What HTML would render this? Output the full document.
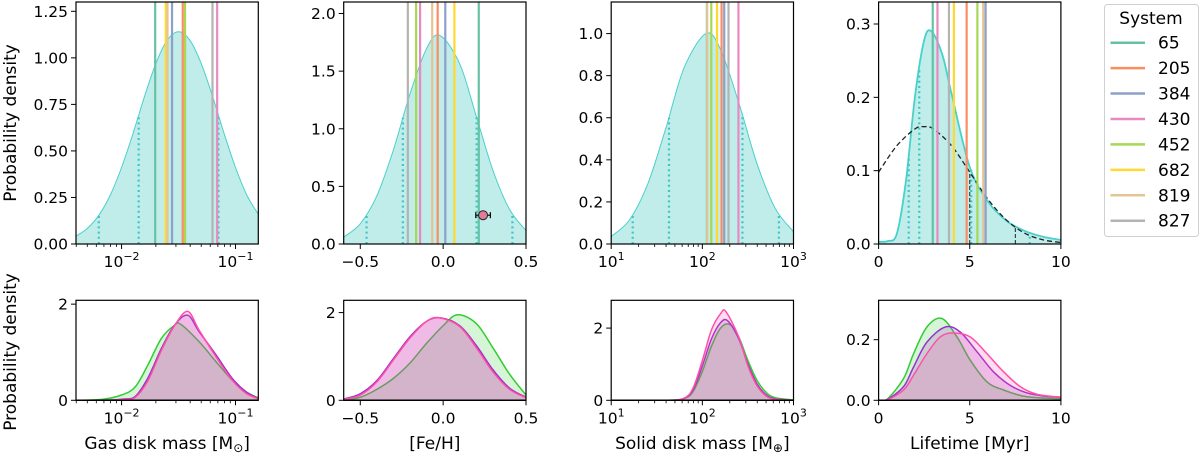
<!DOCTYPE html>
<html><head><meta charset="utf-8">
<style>
html,body{margin:0;padding:0;background:#fff;}
svg{display:block;font-family:"DejaVu Sans","Liberation Sans",sans-serif;}
</style></head>
<body>
<svg id="fig" width="1200" height="456" viewBox="0 0 1200 456" xmlns="http://www.w3.org/2000/svg"></svg>
<script>
// ---------- DATA ----------
const systemNames = ["65","205","384","430","452","682","819","827"];
const systemColors = ["#66c2a5","#fc8d62","#8da0cb","#e78ac3","#a6d854","#ffd92f","#e5c494","#b3b3b3"];
const sysGasLogMass = [-1.705,-1.463,-1.557,-1.161,-1.443,-1.612,-1.597,-1.202];
const sysFeH = [0.215,-0.033,0.013,-0.139,-0.163,0.068,-0.066,-0.213];
const sysSolidLogMass = [2.05,2.211,2.24,2.396,2.098,2.161,2.053,2.287];
const sysLifetime = [2.97,4.83,5.87,3.23,5.42,4.13,5.74,3.86];

const priorGasX = [-2.4,-2.3,-2.2,-2.1,-2.0,-1.9,-1.8,-1.7,-1.6,-1.5,-1.4,-1.3,-1.2,-1.1,-1.0,-0.9,-0.8];
const priorGasY = [0.042,0.084,0.154,0.262,0.411,0.593,0.790,0.968,1.094,1.14,1.094,0.968,0.790,0.593,0.411,0.262,0.16];
const priorGasDots = [-2.2,-1.85,-1.15];
const priorFeX = [-0.6,-0.5,-0.4,-0.3,-0.2,-0.1,-0.02,0.1,0.2,0.3,0.4,0.5];
const priorFeY = [0.060,0.175,0.418,0.817,1.303,1.696,1.81,1.564,1.108,0.641,0.302,0.117];
const priorFeDots = [-0.462,-0.243,0.202,0.418];
const feObsX = [0.241], feObsY = [0.25], feObsErr = [0.044];
const priorSolidX = [1.0,1.2,1.4,1.6,1.8,2.04,2.2,2.4,2.6,2.8,3.0];
const priorSolidY = [0.0359,0.114,0.284,0.551,0.838,1.0,0.924,0.671,0.381,0.169,0.0587];
const priorSolidDots = [1.236,1.634,2.44,2.84];
const priorLifeX = [0,0.5,1,1.5,2,2.5,2.9,3.5,4,5,6,7,8,9,10];
const priorLifeY = [0.003,0.004,0.014,0.086,0.202,0.278,0.29,0.258,0.205,0.105,0.058,0.032,0.018,0.01,0.0055];
const priorLifeDots = [1.65,2.23,5.08,8.29];
const diskFracX = [0,1,2,2.5,3,4,5,6,7,8,9,10];
const diskFracY = [0.098,0.134,0.157,0.16,0.157,0.134,0.098,0.061,0.033,0.0149,0.0058,0.002];
const diskFracMarks = [5.0,7.5];

const postColors = ["#33cc33","#9932cc","#ff4fa8"];
const postFills = ["rgba(50,205,50,0.2)","rgba(153,50,204,0.2)","rgba(255,80,170,0.2)"];
const postGasX = [[-2.4,-2.17,-2.0,-1.88,-1.77,-1.65,-1.536,-1.48,-1.32,-1.17,-1.03,-0.91,-0.8],
                  [-2.4,-2.1,-1.97,-1.88,-1.77,-1.65,-1.536,-1.42,-1.32,-1.17,-1.03,-0.91,-0.8],
                  [-2.4,-2.1,-1.97,-1.88,-1.77,-1.65,-1.536,-1.42,-1.32,-1.17,-1.03,-0.91,-0.8]];
const postGasY = [[0,0.02,0.11,0.28,0.73,1.29,1.56,1.58,1.22,0.8,0.42,0.18,0.05],
                  [0,0.005,0.03,0.08,0.46,1.08,1.56,1.77,1.43,0.94,0.46,0.18,0.04],
                  [0,0.004,0.02,0.06,0.4,1.04,1.55,1.85,1.46,0.9,0.42,0.15,0.03]];
const postFeX = [[-0.6,-0.5,-0.4,-0.3,-0.2,-0.1,0,0.087,0.2,0.3,0.4,0.5],
                 [-0.6,-0.5,-0.4,-0.3,-0.2,-0.1,-0.014,0.1,0.2,0.3,0.4,0.5],
                 [-0.6,-0.5,-0.4,-0.3,-0.2,-0.1,-0.02,0.1,0.2,0.3,0.4,0.5]];
const postFeY = [[0.0,0.07,0.25,0.5,0.85,1.3,1.7,1.95,1.75,1.2,0.6,0.12],
                 [0.03,0.15,0.45,0.95,1.45,1.8,1.88,1.7,1.25,0.7,0.28,0.07],
                 [0.02,0.12,0.42,0.92,1.42,1.8,1.88,1.68,1.2,0.65,0.25,0.06]];
const postSolidX = [[1.0,1.6,1.8,1.9,2.0,2.1,2.2,2.3,2.4,2.5,2.6,2.7,2.8,3.0],
                    [1.0,1.6,1.8,1.9,2.0,2.1,2.2,2.28,2.4,2.5,2.6,2.7,2.8,3.0],
                    [1.0,1.6,1.8,1.9,2.0,2.1,2.2,2.26,2.4,2.5,2.6,2.7,2.8,3.0]];
const postSolidY = [[0,0,0.05,0.25,0.8,1.5,2.0,2.1,1.75,1.1,0.55,0.22,0.07,0.01],
                    [0,0,0.05,0.3,0.95,1.7,2.15,2.2,1.7,1.0,0.45,0.15,0.04,0],
                    [0,0,0.06,0.35,1.1,1.95,2.4,2.45,1.75,0.95,0.4,0.12,0.03,0]];
const postLifeX = [[0,0.46,1.37,1.92,2.65,3.47,4.3,5.03,5.94,6.86,8.1,10],
                   [0,0.46,1.37,1.92,2.65,3.66,4.48,5.4,6.3,7.2,8.1,9.05,10],
                   [0,0.46,1.37,1.92,2.65,3.38,4.1,5.03,5.94,6.86,7.77,8.68,10]];
const postLifeY = [[0,0.003,0.072,0.154,0.242,0.27,0.209,0.132,0.061,0.034,0.012,0.005],
                   [0,0.002,0.045,0.11,0.192,0.242,0.225,0.16,0.094,0.05,0.025,0.014,0.01],
                   [0,0.001,0.034,0.083,0.154,0.209,0.222,0.209,0.154,0.094,0.045,0.02,0.01]];

const gasTicks = [-2,-1], gasTickLabels = ["\u22122","\u22121"];
const feTicks = [-0.5,0,0.5], feTickLabels = ["\u22120.5","0.0","0.5"];
const solidTicks = [1,2,3], solidTickLabels = ["1","2","3"];
const lifeTicks = [0,5,10], lifeTickLabels = ["0","5","10"];
const topYTicks = [[0,0.25,0.5,0.75,1.0,1.25],[0,0.5,1.0,1.5,2.0],[0,0.2,0.4,0.6,0.8,1.0],[0,0.1,0.2,0.3]];
const topYLabels = [["0.00","0.25","0.50","0.75","1.00","1.25"],["0.0","0.5","1.0","1.5","2.0"],["0.0","0.2","0.4","0.6","0.8","1.0"],["0.0","0.1","0.2","0.3"]];
const botYTicks = [[0,2],[0,2],[0,2],[0,0.2]];
const botYLabels = [["0","2"],["0","2"],["0","2"],["0.0","0.2"]];

// ---------- DRAWING ----------
const NS = "http://www.w3.org/2000/svg";
const svg = document.getElementById("fig");
function el(tag, attrs, parent){
  const e = document.createElementNS(NS, tag);
  for (const k in attrs) e.setAttribute(k, attrs[k]);
  (parent||svg).appendChild(e);
  return e;
}
const LEFTS = [76, 343.7, 611.2, 878.6], W = 182.3;
const XR = [[-2.4,-0.8],[-0.6,0.5],[1,3],[0,10]];
const LOGX = [true,false,true,false];
const TOP = {y0:2, y1:244, ymax:[1.30,2.1,1.15,0.33]};
const BOT = {y0:300.3, y1:400.3, ymax:[2.08,2.28,2.77,0.33]};
const TF = 15.5;

function mkX(i){ const [a,b]=XR[i]; return v => LEFTS[i] + (v-a)/(b-a)*W; }
function mkY(row,i){ return v => row.y1 - v/row.ymax[i]*(row.y1-row.y0); }

function smoothPath(pts){
  let d = "M"+pts[0][0].toFixed(2)+","+pts[0][1].toFixed(2);
  for (let i=0;i<pts.length-1;i++){
    const p0=pts[Math.max(i-1,0)], p1=pts[i], p2=pts[i+1], p3=pts[Math.min(i+2,pts.length-1)];
    const c1=[p1[0]+(p2[0]-p0[0])/6, p1[1]+(p2[1]-p0[1])/6];
    const c2=[p2[0]-(p3[0]-p1[0])/6, p2[1]-(p3[1]-p1[1])/6];
    d += "C"+c1[0].toFixed(2)+","+c1[1].toFixed(2)+" "+c2[0].toFixed(2)+","+c2[1].toFixed(2)+" "+p2[0].toFixed(2)+","+p2[1].toFixed(2);
  }
  return d;
}
function interp(xs, ys, v){
  for (let i=0;i<xs.length-1;i++){
    if (v>=xs[i] && v<=xs[i+1]) return ys[i]+(ys[i+1]-ys[i])*(v-xs[i])/(xs[i+1]-xs[i]);
  }
  return 0;
}
function clipFor(id, i, row){
  const c = el("clipPath",{id:id});
  el("rect",{x:LEFTS[i],y:row.y0,width:W,height:row.y1-row.y0},c);
  return "url(#"+id+")";
}

function drawAxes(i,row,yTicks,yLabels,g,prefix){
  const X=mkX(i), Y=mkY(row,i);
  yTicks.forEach((t,k)=>{
    const y=Y(t);
    const tk = el("line",{x1:LEFTS[i]-5,x2:LEFTS[i],y1:y,y2:y,stroke:"#000","stroke-width":1},g);
    
    
    const tx = el("text",{x:LEFTS[i]-8,y:y+5.5,"text-anchor":"end","font-size":TF},g);
    tx.textContent = yLabels[k];
    
    
  });
  const ticks=[gasTicks,feTicks,solidTicks,lifeTicks][i];
  const labs=[gasTickLabels,feTickLabels,solidTickLabels,lifeTickLabels][i];
  ticks.forEach((t,k)=>{
    const x=X(t);
    const tk = el("line",{x1:x,x2:x,y1:row.y1,y2:row.y1+5,stroke:"#000","stroke-width":1},g);
    
    
    const tx = el("text",{x:x,y:row.y1+23,"text-anchor":"middle","font-size":TF},g);
    if (LOGX[i]){
      tx.appendChild(document.createTextNode("10"));
      const s = el("tspan",{dy:-7,"font-size":11},tx);
      s.textContent = labs[k];
    } else tx.textContent = labs[k];
    
    
  });
  if (LOGX[i]){
    const [a,b]=XR[i];
    for (let dec=Math.floor(a); dec<Math.ceil(b); dec++){
      for (let m=2;m<=9;m++){
        const v=dec+Math.log10(m);
        if (v<a||v>b) continue;
        const mt = el("line",{x1:X(v),x2:X(v),y1:row.y1,y2:row.y1+3,stroke:"#000","stroke-width":0.8},g);
        
        
      }
    }
  }
  const fr = el("rect",{x:LEFTS[i],y:row.y0,width:W,height:row.y1-row.y0,fill:"none",stroke:"#000","stroke-width":1.2},g);
  
  
}

const priorX=[priorGasX,priorFeX,priorSolidX,priorLifeX];
const priorY=[priorGasY,priorFeY,priorSolidY,priorLifeY];
const priorDots=[priorGasDots,priorFeDots,priorSolidDots,priorLifeDots];
const sysVals=[sysGasLogMass,sysFeH,sysSolidLogMass,sysLifetime];
const paramNames=["gas-mass","feh","solid-mass","lifetime"];

for (let i=0;i<4;i++){
  const g = el("g",{});
  
  
  const X=mkX(i), Y=mkY(TOP,i);
  const cg = el("g",{"clip-path":clipFor("ct"+i,i,TOP)},g);
  const pts = priorX[i].map((x,k)=>[X(x),Y(priorY[i][k])]);
  const line = smoothPath(pts);
  const f = el("path",{d:line+"L"+pts[pts.length-1][0]+","+TOP.y1+"L"+pts[0][0]+","+TOP.y1+"Z",fill:"#c0ecea",stroke:"none"},cg);
  
  
  const c = el("path",{d:line,fill:"none",stroke:"#48d1cc","stroke-width":i===3?1.8:1},cg);
  
  
  priorDots[i].forEach(v=>{
    const d = el("line",{x1:X(v),x2:X(v),y1:TOP.y1,y2:Y(interp(priorX[i],priorY[i],v)),stroke:"#3cc6c6","stroke-width":2.2,"stroke-dasharray":"2,3.2"},cg);
    
    
  });
  if (i===3){
    const dp = diskFracX.map((x,k)=>[X(x),Y(diskFracY[k])]);
    const dc = el("path",{d:smoothPath(dp),fill:"none",stroke:"#222","stroke-width":1.3,"stroke-dasharray":"5,3"},cg);
    
    
    diskFracMarks.forEach(v=>{
      const m = el("line",{x1:X(v),x2:X(v),y1:TOP.y1,y2:Y(interp(diskFracX,diskFracY,v)),stroke:"#222","stroke-width":1,"stroke-dasharray":"4,2"},cg);
      
      
    });
  }
  sysVals[i].forEach((v,k)=>{
    const s = el("line",{x1:X(v),x2:X(v),y1:TOP.y0,y2:TOP.y1,stroke:systemColors[k],"stroke-width":2.2},cg);
    
    
  });
  if (i===1){
    feObsX.forEach((v,k)=>{
      const y=Y(feObsY[k]);
      const e1 = el("line",{x1:X(v-feObsErr[k]),x2:X(v+feObsErr[k]),y1:y,y2:y,stroke:"#000","stroke-width":1.2},cg);
      
      
      [v-feObsErr[k],v+feObsErr[k]].forEach(w=>{
        const cap = el("line",{x1:X(w),x2:X(w),y1:y-3,y2:y+3,stroke:"#000","stroke-width":1.2},cg);
        
        
      });
      const p = el("circle",{cx:X(v),cy:y,r:4.5,fill:"#e07b9a",stroke:"#222","stroke-width":1},cg);
      
      
    });
  }
  drawAxes(i,TOP,topYTicks[i],topYLabels[i],g,'prior-'+paramNames[i]);
}

const postX=[postGasX,postFeX,postSolidX,postLifeX];
const postY=[postGasY,postFeY,postSolidY,postLifeY];
const seriesNames=["green","purple","pink"];
for (let i=0;i<4;i++){
  const g = el("g",{});
  
  
  const X=mkX(i), Y=mkY(BOT,i);
  const cg = el("g",{"clip-path":clipFor("cb"+i,i,BOT)},g);
  for (let s=0;s<3;s++){
    const xs=postX[i][s], ys=postY[i][s];
    const pts=xs.map((x,k)=>[X(x),Y(ys[k])]);
    const line=smoothPath(pts);
    const f = el("path",{d:line+"L"+pts[pts.length-1][0]+","+BOT.y1+"L"+pts[0][0]+","+BOT.y1+"Z",fill:postFills[s],stroke:"none"},cg);
    
    
    const c = el("path",{d:line,fill:"none",stroke:postColors[s],"stroke-width":1.5},cg);
    
    
  }
  const base = el("line",{x1:LEFTS[i],x2:LEFTS[i]+W,y1:BOT.y1,y2:BOT.y1,stroke:"#000","stroke-width":1.5},g);
  
  
  drawAxes(i,BOT,botYTicks[i],botYLabels[i],g,'posterior-'+paramNames[i]);
}

[[123,"top"],[352,"bottom"]].forEach(([cy,n])=>{
  const t = el("text",{x:0,y:0,"text-anchor":"middle","font-size":17,transform:"translate(16,"+cy+") rotate(-90)"});
  t.textContent="Probability density";
  
  
});
const xTitles=[["Gas disk mass [M","\u2299","]"],["[Fe/H]"],["Solid disk mass [M","\u2295","]"],["Lifetime [Myr]"]];
xTitles.forEach((parts,i)=>{
  const t = el("text",{x:LEFTS[i]+W/2,y:449,"text-anchor":"middle","font-size":17});
  t.appendChild(document.createTextNode(parts[0]));
  if (parts.length>1){
    const s = el("tspan",{dy:3,"font-size":12},t); s.textContent=parts[1];
    const r = el("tspan",{dy:-3},t); r.textContent=parts[2];
  }
  
  
});

const lg = el("g",{});


el("rect",{x:1104.5,y:4.5,width:94,height:232,rx:3,fill:"#fff",stroke:"#d0d0d0","stroke-width":1},lg);
const lt = el("text",{x:1151,y:24,"text-anchor":"middle","font-size":17},lg);
lt.textContent="System";


systemNames.forEach((n,k)=>{
  const y = 42.7 + k*25.43;
  const e = el("g",{},lg);
  
  
  el("line",{x1:1110.5,x2:1145,y1:y,y2:y,stroke:systemColors[k],"stroke-width":2.5},e);
  const t = el("text",{x:1158,y:y+6,"font-size":17},e);
  t.textContent=n;
});
</script>
</body></html>
